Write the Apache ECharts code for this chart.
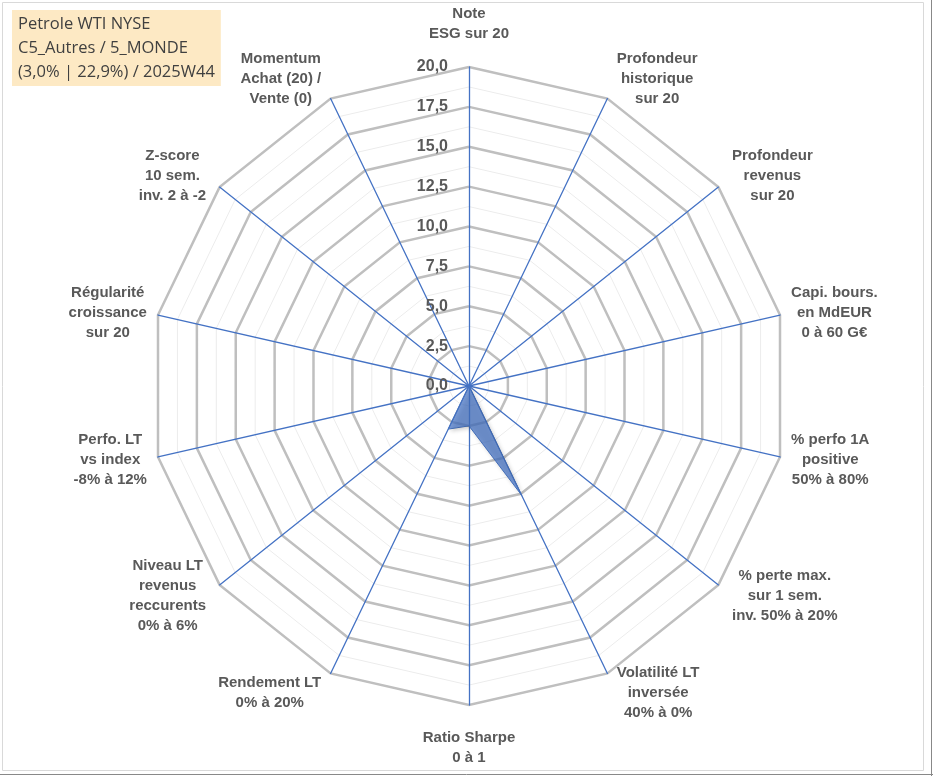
<!DOCTYPE html>
<html>
<head>
<meta charset="utf-8">
<script src="https://cdn.jsdelivr.net/npm/echarts@6/dist/echarts.min.js"></script>
<style type="text/css">
html, body { margin: 0; padding: 0; background: #fff; }
#chart { width: 933px; height: 776px; }
</style>
</head>
<body>
<div id="chart"></div>
<script type="text/javascript">
// axes of the radar (clockwise from top)
var axisNames = [
    'Note\nESG sur 20',
    'Profondeur\nhistorique\nsur 20',
    'Profondeur\nrevenus\nsur 20',
    'Capi. bours.\nen MdEUR\n0 à 60 G€',
    '% perfo 1A\npositive\n50% à 80%',
    '% perte max.\nsur 1 sem.\ninv. 50% à 20%',
    'Volatilité LT\ninversée\n40% à 0%',
    'Ratio Sharpe\n0 à 1',
    'Rendement LT\n0% à 20%',
    'Niveau LT\nrevenus\nreccurents\n0% à 6%',
    'Perfo. LT\nvs index\n-8% à 12%',
    'Régularité\ncroissance\nsur 20',
    'Z-score\n10 sem.\ninv. 2 à -2',
    'Momentum\nAchat (20) /\nVente (0)'
];
// notes (same order)
var scores = [0, 0, 0, 0, 0, 0, 7.6, 2.5, 3.0, 0, 0, 0, 0, 0];
var scaleMin = 0;
var scaleMax = 20;
var titleLines = ['Petrole WTI NYSE', 'C5_Autres / 5_MONDE', '(3,0% | 22,9%) / 2025W44'];

var myChart = echarts.init(document.getElementById('chart'));

// echarts tourne dans le sens inverse : on garde le premier axe en haut et on inverse le reste
var n = axisNames.length;
var order = [0];
for (var k = n - 1; k > 0; k--) order.push(k);

var indicatorMajor = order.map(function (i) {
    var ang = i * 2 * Math.PI / n;
    var ind = {
        name: axisNames[i],
        min: scaleMin,
        max: scaleMax,
        nameGap: 8 + 15 * Math.abs(Math.cos(ang))
    };
    if (i === 0) {
        // valeurs seulement sur l'axe du haut
        ind.axisLabel = {
            show: true,
            margin: 21,
            color: '#595959',
            fontSize: 16,
            fontWeight: 'bold',
            fontFamily: 'Liberation Sans, Arial',
            formatter: function (v) { return v.toFixed(1).replace('.', ','); }
        };
    }
    return ind;
});
var indicatorMinor = order.map(function () {
    return { name: '', min: scaleMin, max: scaleMax };
});
var seriesValues = order.map(function (i) { return scores[i]; });

var center = [469, 386];
var radius = 319;

option = {
    animation: false,
    title: {
        text: titleLines.join('\n'),
        left: 12,
        top: 10,
        padding: [2, 6, 2, 6],
        backgroundColor: '#fde9c4',
        textStyle: {
            fontSize: 16.5,
            fontWeight: 'normal',
            color: '#404040',
            fontFamily: 'Open Sans, sans-serif',
            lineHeight: 24
        }
    },
    graphic: [
        { type: 'rect', shape: { x: 2.5, y: 2.5, width: 921, height: 768 }, style: { fill: 'none', stroke: '#d9d9d9', lineWidth: 1 }, silent: true },
        { type: 'line', shape: { x1: 931.5, y1: 0, x2: 931.5, y2: 776 }, style: { stroke: '#888', lineWidth: 1 }, silent: true },
        { type: 'line', shape: { x1: 0, y1: 774.5, x2: 933, y2: 774.5 }, style: { stroke: '#888', lineWidth: 1 }, silent: true }
    ],
    radar: [
        {
            // fines lignes intermédiaires
            center: center,
            radius: radius,
            startAngle: 90,
            splitNumber: 16,
            shape: 'polygon',
            indicator: indicatorMinor,
            axisName: { show: false },
            axisLine: { show: false },
            axisTick: { show: false },
            axisLabel: { show: false },
            splitArea: { show: false },
            splitLine: { lineStyle: { color: '#ececec', width: 1 } }
        },
        {
            center: center,
            radius: radius,
            startAngle: 90,
            splitNumber: 8,
            shape: 'polygon',
            indicator: indicatorMajor,
            axisName: {
                color: '#595959',
                formatter: function (name) {
                    return name.split('\n').map(function (l) { return '{c|' + l + '}'; }).join('\n');
                },
                rich: {
                    c: {
                        align: 'center',
                        fontSize: 15,
                        fontWeight: 'bold',
                        color: '#595959',
                        fontFamily: 'Liberation Sans, Arial',
                        lineHeight: 20
                    }
                }
            },
            axisLine: { lineStyle: { color: '#4472c4', width: 1.3 } },
            axisTick: { show: false },
            axisLabel: { show: false },
            splitArea: { show: false },
            splitLine: { lineStyle: { color: '#bfbfbf', width: 2.5 } }
        }
    ],
    series: [
        {
            name: 'Notes',
            type: 'radar',
            radarIndex: 1,
            z: 1,
            symbol: 'none',
            lineStyle: { color: '#4a76c0', width: 1 },
            areaStyle: {
                color: '#4472c4',
                opacity: 0.72,
                shadowBlur: 4,
                shadowColor: 'rgba(0,0,0,0.3)',
                shadowOffsetX: 2,
                shadowOffsetY: 2
            },
            data: [{ value: seriesValues, name: titleLines[0] }]
        }
    ]
};

myChart.setOption(option);
</script>
</body>
</html>
